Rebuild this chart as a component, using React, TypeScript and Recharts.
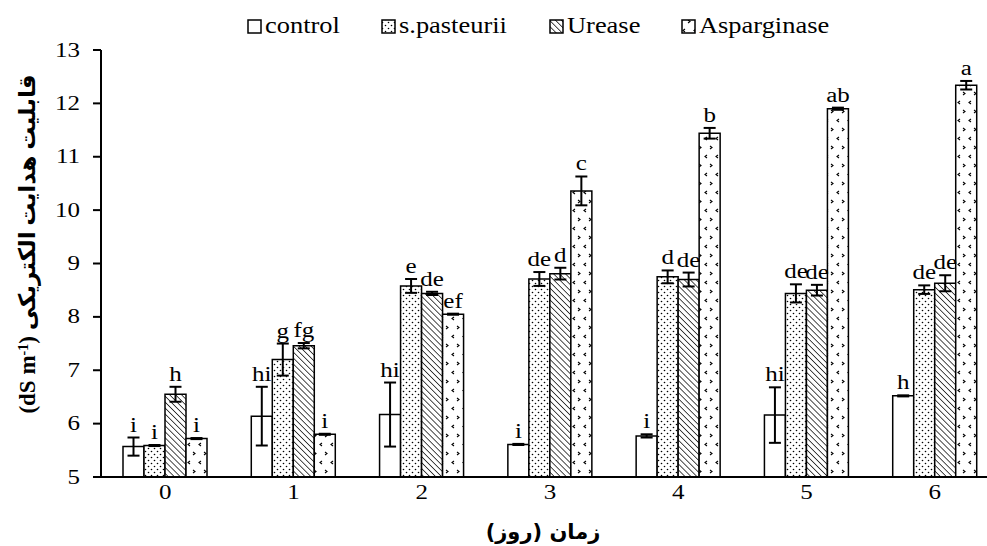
import { BarChart, Bar, XAxis, YAxis, ErrorBar, LabelList } from 'recharts'

const days = ['0', '1', '2', '3', '4', '5', '6']

const control = [5.57, 6.14, 6.17, 5.61, 5.77, 6.16, 6.52]
const controlErr = [0.17, 0.55, 0.6, 0.01, 0.03, 0.52, 0.01]
const controlLetters = ['i', 'hi', 'hi', 'i', 'i', 'hi', 'h']

const pasteurii = [5.59, 7.2, 8.58, 8.71, 8.75, 8.44, 8.51]
const pasteuriiErr = [0.01, 0.3, 0.13, 0.13, 0.12, 0.17, 0.08]
const pasteuriiLetters = ['i', 'g', 'e', 'de', 'd', 'de', 'de']

const urease = [6.55, 7.46, 8.44, 8.81, 8.7, 8.5, 8.63]
const ureaseErr = [0.14, 0.05, 0.03, 0.11, 0.13, 0.1, 0.15]
const ureaseLetters = ['h', 'fg', 'de', 'd', 'de', 'de', 'de']

const asparginase = [5.72, 5.8, 8.05, 10.36, 11.44, 11.9, 12.34]
const asparginaseErr = [0.01, 0.01, 0.01, 0.27, 0.1, 0.02, 0.08]
const asparginaseLetters = ['i', 'i', 'ef', 'c', 'b', 'ab', 'a']

const yTicks = [5, 6, 7, 8, 9, 10, 11, 12, 13]

const SERIES = [
  { key: 'control', name: 'control', fill: '#fff', vals: control, errs: controlErr, letters: controlLetters },
  { key: 'pasteurii', name: 's.pasteurii', fill: 'url(#dots)', vals: pasteurii, errs: pasteuriiErr, letters: pasteuriiLetters },
  { key: 'urease', name: 'Urease', fill: 'url(#diag)', vals: urease, errs: ureaseErr, letters: ureaseLetters },
  { key: 'asparginase', name: 'Asparginase', fill: 'url(#chev)', vals: asparginase, errs: asparginaseErr, letters: asparginaseLetters },
]

const data = days.map((d, i) => {
  const row: Record<string, string | number> = { day: d }
  SERIES.forEach((s) => {
    row[s.key] = s.vals[i]
    row[s.key + 'Err'] = s.errs[i]
    row[s.key + 'Let'] = s.letters[i]
  })
  return row
})

const SERIF = '"Liberation Serif", "Times New Roman", serif'
const MIN = 5

function Patterns({ p = '' }: { p?: string }) {
  return (
    <defs>
      <pattern id={p + 'dots'} width={6} height={6} patternUnits="userSpaceOnUse">
        <rect width={6} height={6} fill="#fff" />
        <circle cx={1.5} cy={1.5} r={0.8} fill="#000" />
        <circle cx={4.5} cy={4.5} r={0.8} fill="#000" />
      </pattern>
      <pattern id={p + 'diag'} width={4.2} height={10} patternUnits="userSpaceOnUse" patternTransform="rotate(-45)">
        <rect width={4.2} height={10} fill="#fff" />
        <line x1={0} y1={0} x2={0} y2={10} stroke="#000" strokeWidth={1.4} />
      </pattern>
      <pattern id={p + 'chev'} width={11} height={18} patternUnits="userSpaceOnUse">
        <rect width={11} height={18} fill="#fff" />
        <path d="M6,2 L8,3.5 L6,5" fill="none" stroke="#000" strokeWidth={1.1} />
        <path d="M3,11 L1,12.5 L3,14" fill="none" stroke="#000" strokeWidth={1.1} />
      </pattern>
    </defs>
  )
}

const letterLabel = (s: typeof SERIES[number]) => (props: any) => {
  const { x, y, width, height, index } = props
  const v = s.vals[index]
  const pxPerUnit = height / (v - MIN)
  const top = y - s.errs[index] * pxPerUnit
  return (
    <text
      transform={`translate(${x + width / 2},${top - 6}) scale(1.25,1)`}
      textAnchor="middle"
      fontFamily={SERIF}
      fontSize={20}
      fill="#000"
    >
      {s.letters[index]}
    </text>
  )
}

const YTick = ({ x, y, payload }: any) => (
  <text transform={`translate(${x},${y + 6.5}) scale(1.25,1)`} textAnchor="end" fontFamily={SERIF} fontSize={20} fill="#000">
    {payload.value}
  </text>
)

const XTick = ({ x, y, payload }: any) => (
  <text transform={`translate(${x},${y + 22}) scale(1.25,1)`} textAnchor="middle" fontFamily={SERIF} fontSize={20} fill="#000">
    {payload.value}
  </text>
)

const LEGEND_X = [248, 382, 550, 682]

export default function App() {
  return (
    <div style={{ position: 'absolute', left: 0, top: 0, width: 987, height: 546, overflow: 'hidden', background: '#fff' }}>
      <BarChart width={1000} height={546} data={data} margin={{ top: 50, right: 1, left: 0, bottom: 0 }} barSize={21} barGap={0}>
        <Patterns />
        <XAxis
          dataKey="day"
          height={69}
          tickLine={false}
          tickSize={0}
          tickMargin={0}
          axisLine={{ stroke: '#000', strokeWidth: 2 }}
          tick={<XTick />}
          interval={0}
        />
        <YAxis
          type="number"
          domain={[5, 13]}
          ticks={yTicks}
          width={101}
          interval={0}
          tickSize={8}
          tickMargin={13}
          axisLine={{ stroke: '#000', strokeWidth: 2 }}
          tickLine={{ stroke: '#000', strokeWidth: 2 }}
          tick={<YTick />}
        />
        {SERIES.map((s) => (
          <Bar key={s.key} dataKey={s.key} name={s.name} fill={s.fill} stroke="#000" strokeWidth={1.5} isAnimationActive={false}>
            <ErrorBar dataKey={s.key + 'Err'} width={6} stroke="#000" strokeWidth={2} direction="y" />
            <LabelList dataKey={s.key + 'Let'} content={letterLabel(s)} />
          </Bar>
        ))}
      </BarChart>
      <svg width={987} height={546} style={{ position: 'absolute', left: 0, top: 0, pointerEvents: 'none' }}>
        <Patterns p="lg-" />
        {SERIES.map((s, i) => (
          <g key={s.key}>
            <rect x={LEGEND_X[i]} y={20} width={13} height={13} fill={s.fill.replace('url(#', 'url(#lg-')} stroke="#000" strokeWidth={1.5} />
            <text transform={`translate(${LEGEND_X[i] + 17},33) scale(1.15,1)`} fontFamily={SERIF} fontSize={23} fill="#000">
              {s.name}
            </text>
          </g>
        ))}
        <text
          transform="translate(35,244) rotate(-90)"
          textAnchor="middle"
          fontFamily='"Liberation Serif", "DejaVu Sans", serif'
          fontWeight="bold"
          fontSize={23}
          fill="#000"
        >
          <tspan>(dS m</tspan>
          <tspan baselineShift="super" fontSize={14}>-1</tspan>
          <tspan>) قابلیت هدایت الکتریکی</tspan>
        </text>
        <text
          x={543}
          y={539}
          textAnchor="middle"
          direction="rtl"
          fontFamily='"DejaVu Sans", sans-serif'
          fontWeight="bold"
          fontSize={21}
          fill="#000"
        >
          زمان (روز)
        </text>
      </svg>
    </div>
  )
}
